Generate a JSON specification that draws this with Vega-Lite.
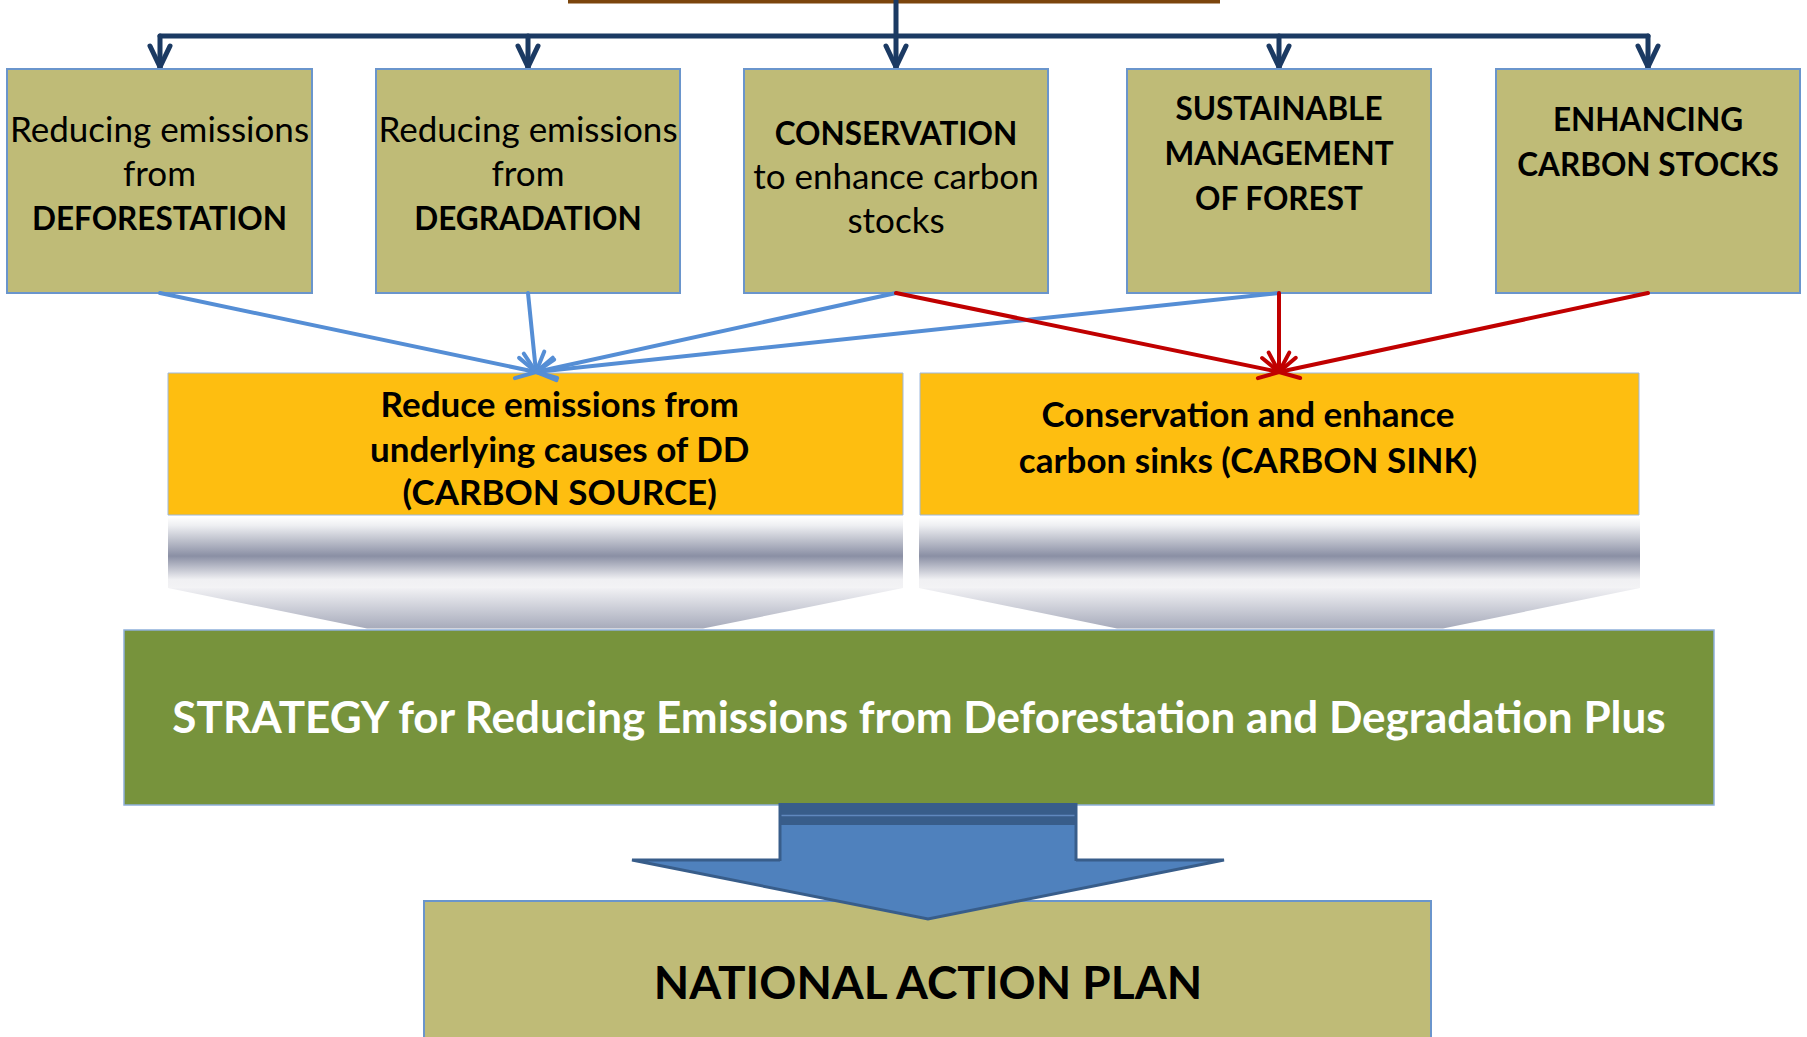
{
  "$schema": "https://vega.github.io/schema/vega-lite/v6.json",
  "width": 1807,
  "height": 1037,
  "padding": 0,
  "autosize": {"type": "none"},
  "background": "white",
  "config": {"view": {"stroke": null}},
  "datasets": {
    "strip": [{"x": 568, "x2": 1220, "y": 0, "y2": 3.5}],
    "tree": [
      {"x": 896, "y": 0, "x2": 896, "y2": 67},
      {"x": 160, "y": 36, "x2": 1648, "y2": 36},
      {"x": 160, "y": 36, "x2": 160, "y2": 67},
      {"x": 528, "y": 36, "x2": 528, "y2": 67},
      {"x": 1279, "y": 36, "x2": 1279, "y2": 67},
      {"x": 1648, "y": 36, "x2": 1648, "y2": 67},
      {"x": 150, "y": 46, "x2": 160, "y2": 67},
      {"x": 170, "y": 46, "x2": 160, "y2": 67},
      {"x": 518, "y": 46, "x2": 528, "y2": 67},
      {"x": 538, "y": 46, "x2": 528, "y2": 67},
      {"x": 886, "y": 46, "x2": 896, "y2": 67},
      {"x": 906, "y": 46, "x2": 896, "y2": 67},
      {"x": 1269, "y": 46, "x2": 1279, "y2": 67},
      {"x": 1289, "y": 46, "x2": 1279, "y2": 67},
      {"x": 1638, "y": 46, "x2": 1648, "y2": 67},
      {"x": 1658, "y": 46, "x2": 1648, "y2": 67}
    ],
    "levers": [
      {"x": 7, "x2": 312, "y": 69, "y2": 293},
      {"x": 376, "x2": 680, "y": 69, "y2": 293},
      {"x": 744, "x2": 1048, "y": 69, "y2": 293},
      {"x": 1127, "x2": 1431, "y": 69, "y2": 293},
      {"x": 1496, "x2": 1800, "y": 69, "y2": 293},
      {"x": 424, "x2": 1431, "y": 901, "y2": 1045}
    ],
    "panels": [
      {"x": 168, "x2": 903, "y": 373, "y2": 515},
      {"x": 920, "x2": 1639, "y": 373, "y2": 515}
    ],
    "bands": [
      {"x": 168, "x2": 903, "y": 517, "y2": 588},
      {"x": 919, "x2": 1640, "y": 517, "y2": 588}
    ],
    "funnels": [
      {"g": "source", "x": 168, "y": 588, "y2": 588},
      {"g": "source", "x": 367, "y": 588, "y2": 628.5},
      {"g": "source", "x": 703, "y": 588, "y2": 628.5},
      {"g": "source", "x": 903, "y": 588, "y2": 588},
      {"g": "sink", "x": 919, "y": 588, "y2": 588},
      {"g": "sink", "x": 1117, "y": 588, "y2": 628.5},
      {"g": "sink", "x": 1443, "y": 588, "y2": 628.5},
      {"g": "sink", "x": 1640, "y": 588, "y2": 588}
    ],
    "strategy": [{"x": 124, "x2": 1714, "y": 630, "y2": 805}],
    "links": [
      {"kind": "source", "x": 160, "y": 293, "x2": 536, "y2": 372},
      {"kind": "source", "x": 528, "y": 293, "x2": 536, "y2": 372},
      {"kind": "source", "x": 896, "y": 293, "x2": 536, "y2": 372},
      {"kind": "source", "x": 1279, "y": 293, "x2": 536, "y2": 372},
      {"kind": "source", "x": 519.1, "y": 357.9, "x2": 536, "y2": 372},
      {"kind": "source", "x": 514.9, "y": 378.1, "x2": 536, "y2": 372},
      {"kind": "source", "x": 544.3, "y": 351.6, "x2": 536, "y2": 372},
      {"kind": "source", "x": 523.8, "y": 353.7, "x2": 536, "y2": 372},
      {"kind": "source", "x": 557.2, "y": 377.9, "x2": 536, "y2": 372},
      {"kind": "source", "x": 552.8, "y": 357.7, "x2": 536, "y2": 372},
      {"kind": "source", "x": 556.4, "y": 380.2, "x2": 536, "y2": 372},
      {"kind": "source", "x": 554.2, "y": 359.7, "x2": 536, "y2": 372},
      {"kind": "sink", "x": 896, "y": 293, "x2": 1279, "y2": 372},
      {"kind": "sink", "x": 1279, "y": 293, "x2": 1279, "y2": 372},
      {"kind": "sink", "x": 1648, "y": 293, "x2": 1279, "y2": 372},
      {"kind": "sink", "x": 1262.1, "y": 358.0, "x2": 1279, "y2": 372},
      {"kind": "sink", "x": 1257.9, "y": 378.2, "x2": 1279, "y2": 372},
      {"kind": "sink", "x": 1289.3, "y": 352.6, "x2": 1279, "y2": 372},
      {"kind": "sink", "x": 1268.7, "y": 352.6, "x2": 1279, "y2": 372},
      {"kind": "sink", "x": 1300.2, "y": 378.0, "x2": 1279, "y2": 372},
      {"kind": "sink", "x": 1295.8, "y": 357.8, "x2": 1279, "y2": 372}
    ],
    "arrowHead": [
      {"x": 632, "y": 860, "y2": 860},
      {"x": 928, "y": 860, "y2": 919},
      {"x": 1224, "y": 860, "y2": 860}
    ],
    "arrowShaft": [{"x": 780, "x2": 1076, "y": 803, "y2": 862}],
    "arrowCap": [{"x": 779, "x2": 1077, "y": 803, "y2": 825}],
    "arrowEdges": [
      {"x": 780, "y": 803, "x2": 780, "y2": 861},
      {"x": 1076, "y": 803, "x2": 1076, "y2": 861}
    ],
    "arrowSeam": [{"x": 781, "y": 815.5, "x2": 1075, "y2": 815.5}],
    "labels": [
      {"kind": "body", "x": 159.5, "y": 141.7, "text": "Reducing emissions"},
      {"kind": "body", "x": 159.5, "y": 185.5, "text": "from"},
      {"kind": "head", "x": 159.5, "y": 230, "text": "DEFORESTATION"},
      {"kind": "body", "x": 528, "y": 141.7, "text": "Reducing emissions"},
      {"kind": "body", "x": 528, "y": 185.5, "text": "from"},
      {"kind": "head", "x": 528, "y": 230, "text": "DEGRADATION"},
      {"kind": "head", "x": 896, "y": 145, "text": "CONSERVATION"},
      {"kind": "body", "x": 896, "y": 188.5, "text": "to enhance carbon"},
      {"kind": "body", "x": 896, "y": 233, "text": "stocks"},
      {"kind": "head", "x": 1279, "y": 119.8, "text": "SUSTAINABLE"},
      {"kind": "head", "x": 1279, "y": 164.8, "text": "MANAGEMENT"},
      {"kind": "head", "x": 1279, "y": 209.7, "text": "OF FOREST"},
      {"kind": "head", "x": 1648, "y": 131.3, "text": "ENHANCING"},
      {"kind": "head", "x": 1648, "y": 176.3, "text": "CARBON STOCKS"},
      {"kind": "panel", "x": 559.7, "y": 416.7, "text": "Reduce emissions from"},
      {"kind": "panel", "x": 559.7, "y": 461.7, "text": "underlying causes of DD"},
      {"kind": "panel", "x": 559.7, "y": 505.2, "text": "(CARBON SOURCE)"},
      {"kind": "panel", "x": 1248, "y": 427, "text": "Conservation and enhance"},
      {"kind": "panel", "x": 1248, "y": 472.5, "text": "carbon sinks (CARBON SINK)"},
      {"kind": "strategy", "x": 919, "y": 733, "text": "STRATEGY for Reducing Emissions from Deforestation and Degradation Plus"},
      {"kind": "plan", "x": 928, "y": 999, "text": "NATIONAL ACTION PLAN"}
    ]
  },
  "layer": [
    {
      "data": {"name": "strip"},
      "mark": {"type": "rect", "color": "#7B450C"},
      "encoding": {
        "x": {"field": "x", "type": "quantitative", "scale": {"domain": [0, 1807], "nice": false, "zero": false}, "axis": null},
        "x2": {"field": "x2"},
        "y": {"field": "y", "type": "quantitative", "scale": {"domain": [0, 1037], "nice": false, "zero": false, "reverse": true}, "axis": null},
        "y2": {"field": "y2"}
      }
    },
    {
      "data": {"name": "tree"},
      "mark": {"type": "rule", "color": "#1B3A63", "strokeWidth": 5, "strokeCap": "round"},
      "encoding": {
        "x": {"field": "x", "type": "quantitative", "axis": null},
        "x2": {"field": "x2"},
        "y": {"field": "y", "type": "quantitative", "axis": null},
        "y2": {"field": "y2"}
      }
    },
    {
      "data": {"name": "levers"},
      "mark": {"type": "rect", "fill": "#BFBB77", "stroke": "#6A95CC", "strokeWidth": 2},
      "encoding": {
        "x": {"field": "x", "type": "quantitative", "axis": null},
        "x2": {"field": "x2"},
        "y": {"field": "y", "type": "quantitative", "axis": null},
        "y2": {"field": "y2"}
      }
    },
    {
      "data": {"name": "panels"},
      "mark": {"type": "rect", "fill": "#FEBE10", "stroke": "#9DB8DE", "strokeWidth": 1},
      "encoding": {
        "x": {"field": "x", "type": "quantitative", "axis": null},
        "x2": {"field": "x2"},
        "y": {"field": "y", "type": "quantitative", "axis": null},
        "y2": {"field": "y2"}
      }
    },
    {
      "data": {"name": "bands"},
      "mark": {
        "type": "rect",
        "fill": {
          "gradient": "linear", "x1": 0, "y1": 0, "x2": 0, "y2": 1,
          "stops": [
            {"offset": 0, "color": "#FFFFFF"},
            {"offset": 0.12, "color": "#EEEFF2"},
            {"offset": 0.55, "color": "#8A8FA4"},
            {"offset": 0.88, "color": "#F0F0F3"},
            {"offset": 1, "color": "#F3F3F5"}
          ]
        }
      },
      "encoding": {
        "x": {"field": "x", "type": "quantitative", "axis": null},
        "x2": {"field": "x2"},
        "y": {"field": "y", "type": "quantitative", "axis": null},
        "y2": {"field": "y2"}
      }
    },
    {
      "data": {"name": "funnels"},
      "mark": {
        "type": "area",
        "fill": {
          "gradient": "linear", "x1": 0, "y1": 0, "x2": 0, "y2": 1,
          "stops": [
            {"offset": 0, "color": "#F1F1F4"},
            {"offset": 1, "color": "#A7ABBB"}
          ]
        }
      },
      "encoding": {
        "x": {"field": "x", "type": "quantitative", "axis": null},
        "y": {"field": "y", "type": "quantitative", "axis": null},
        "y2": {"field": "y2"},
        "detail": {"field": "g"}
      }
    },
    {
      "data": {"name": "strategy"},
      "mark": {"type": "rect", "fill": "#77933C", "stroke": "#8FB0DA", "strokeWidth": 1.5},
      "encoding": {
        "x": {"field": "x", "type": "quantitative", "axis": null},
        "x2": {"field": "x2"},
        "y": {"field": "y", "type": "quantitative", "axis": null},
        "y2": {"field": "y2"}
      }
    },
    {
      "data": {"name": "links"},
      "mark": {"type": "rule", "strokeWidth": 4, "strokeCap": "round"},
      "encoding": {
        "x": {"field": "x", "type": "quantitative", "axis": null},
        "x2": {"field": "x2"},
        "y": {"field": "y", "type": "quantitative", "axis": null},
        "y2": {"field": "y2"},
        "color": {"field": "kind", "type": "nominal", "scale": {"domain": ["source", "sink"], "range": ["#558ED5", "#C00000"]}, "legend": null}
      }
    },
    {
      "data": {"name": "arrowHead"},
      "mark": {"type": "area", "fill": "#4F81BD", "stroke": "#385D8A", "strokeWidth": 3, "strokeJoin": "miter"},
      "encoding": {
        "x": {"field": "x", "type": "quantitative", "axis": null},
        "y": {"field": "y", "type": "quantitative", "axis": null},
        "y2": {"field": "y2"}
      }
    },
    {
      "data": {"name": "arrowShaft"},
      "mark": {"type": "rect", "fill": "#4F81BD"},
      "encoding": {
        "x": {"field": "x", "type": "quantitative", "axis": null},
        "x2": {"field": "x2"},
        "y": {"field": "y", "type": "quantitative", "axis": null},
        "y2": {"field": "y2"}
      }
    },
    {
      "data": {"name": "arrowCap"},
      "mark": {"type": "rect", "fill": "#385D8A"},
      "encoding": {
        "x": {"field": "x", "type": "quantitative", "axis": null},
        "x2": {"field": "x2"},
        "y": {"field": "y", "type": "quantitative", "axis": null},
        "y2": {"field": "y2"}
      }
    },
    {
      "data": {"name": "arrowSeam"},
      "mark": {"type": "rule", "color": "#5F88BE", "strokeWidth": 1.5},
      "encoding": {
        "x": {"field": "x", "type": "quantitative", "axis": null},
        "x2": {"field": "x2"},
        "y": {"field": "y", "type": "quantitative", "axis": null},
        "y2": {"field": "y2"}
      }
    },
    {
      "data": {"name": "arrowEdges"},
      "mark": {"type": "rule", "color": "#385D8A", "strokeWidth": 3},
      "encoding": {
        "x": {"field": "x", "type": "quantitative", "axis": null},
        "x2": {"field": "x2"},
        "y": {"field": "y", "type": "quantitative", "axis": null},
        "y2": {"field": "y2"}
      }
    },
    {
      "data": {"name": "labels"},
      "transform": [{"filter": "datum.kind === 'body'"}],
      "mark": {"type": "text", "font": "Lato", "fontSize": 35, "fontWeight": "normal", "color": "#000000", "align": "center", "baseline": "alphabetic"},
      "encoding": {
        "x": {"field": "x", "type": "quantitative", "axis": null},
        "y": {"field": "y", "type": "quantitative", "axis": null},
        "text": {"field": "text"}
      }
    },
    {
      "data": {"name": "labels"},
      "transform": [{"filter": "datum.kind === 'head'"}],
      "mark": {"type": "text", "font": "Lato", "fontSize": 31.5, "fontWeight": "bold", "color": "#000000", "align": "center", "baseline": "alphabetic"},
      "encoding": {
        "x": {"field": "x", "type": "quantitative", "axis": null},
        "y": {"field": "y", "type": "quantitative", "axis": null},
        "text": {"field": "text"}
      }
    },
    {
      "data": {"name": "labels"},
      "transform": [{"filter": "datum.kind === 'panel'"}],
      "mark": {"type": "text", "font": "Lato", "fontSize": 35, "fontWeight": "bold", "color": "#000000", "align": "center", "baseline": "alphabetic"},
      "encoding": {
        "x": {"field": "x", "type": "quantitative", "axis": null},
        "y": {"field": "y", "type": "quantitative", "axis": null},
        "text": {"field": "text"}
      }
    },
    {
      "data": {"name": "labels"},
      "transform": [{"filter": "datum.kind === 'strategy'"}],
      "mark": {"type": "text", "font": "Lato", "fontSize": 44, "fontWeight": "bold", "color": "#FFFFFF", "align": "center", "baseline": "alphabetic"},
      "encoding": {
        "x": {"field": "x", "type": "quantitative", "axis": null},
        "y": {"field": "y", "type": "quantitative", "axis": null},
        "text": {"field": "text"}
      }
    },
    {
      "data": {"name": "labels"},
      "transform": [{"filter": "datum.kind === 'plan'"}],
      "mark": {"type": "text", "font": "Lato", "fontSize": 46, "fontWeight": "bold", "color": "#000000", "align": "center", "baseline": "alphabetic"},
      "encoding": {
        "x": {"field": "x", "type": "quantitative", "axis": null},
        "y": {"field": "y", "type": "quantitative", "axis": null},
        "text": {"field": "text"}
      }
    }
  ]
}
